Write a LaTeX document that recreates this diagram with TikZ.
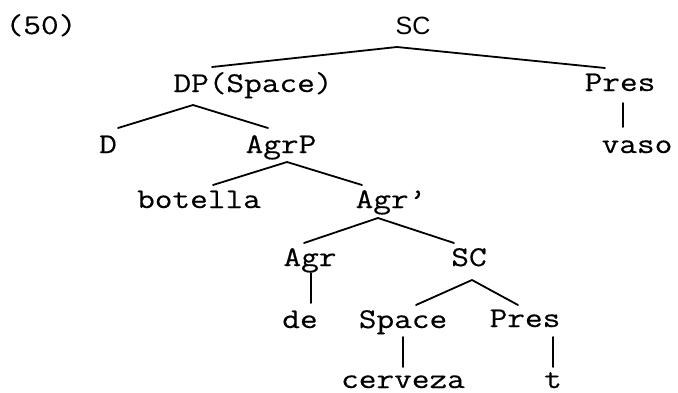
\documentclass[tikz,border=0pt]{standalone}
\usepackage{fontspec}
\newfontfamily\monofam{Latin Modern Mono}[FakeStretch=1.2,FakeBold=0.4]
\newfontfamily\sansfam{Liberation Sans}
\begin{document}
\begin{tikzpicture}[x=0.5pt,y=-0.5pt,
  lab/.style={font=\monofam\fontsize{14.3}{15}\selectfont, inner sep=0pt, anchor=base},
  sanslab/.style={font=\sansfam\fontsize{12.5}{13}\selectfont, inner sep=0pt, anchor=base},
  branch/.style={line width=0.9pt, line cap=round}]
\path[use as bounding box] (0,0) rectangle (678,392);
\node[lab] (ex) at (41,34) {(50)};
\node[sanslab] (sc) at (413,34) {SC};
\node[lab] (dp) at (253,92) {DP(Space)};
\node[lab] (pres) at (620,91) {Pres};
\node[lab] (vaso) at (637,153) {vaso};
\node[lab] (d) at (108,153) {D};
\node[lab] (agrp) at (281,153) {AgrP};
\node[lab] (bot) at (199,208) {botella};
\node[lab] (agrbar) at (391,208) {Agr’};
\node[lab] (agr) at (310,266) {Agr};
\node[lab] (sctwo) at (469,266) {SC};
\node[lab] (de) at (300,328) {de};
\node[lab] (space) at (403,328) {Space};
\node[lab] (prestwo) at (525,327) {Pres};
\node[lab] (cer) at (403,388) {cerveza};
\node[lab] (t) at (553,388) {t};
% branches
\draw[branch] ([shift={(-41,-25)}]dp.base) -- ([shift={(-16,13)}]sc.base) -- ([shift={(-15,-23)}]pres.base);
\draw[branch] ([shift={(3,12)}]pres.base) -- ([shift={(-14,-26)}]vaso.base);
\draw[branch] ([shift={(10,-25)}]d.base) -- ([shift={(-60,13)}]dp.base) -- ([shift={(-13,-25)}]agrp.base);
\draw[branch] ([shift={(14,-23)}]bot.base) -- ([shift={(6,9)}]agrp.base) -- ([shift={(-29,-23)}]agrbar.base);
\draw[branch] ([shift={(-6,-23)}]agr.base) -- ([shift={(-13,10)}]agrbar.base) -- ([shift={(-15,-23)}]sctwo.base);
\draw[branch] ([shift={(1,7)}]agr.base) -- ([shift={(11,-25)}]de.base);
\draw[branch] ([shift={(13,-23)}]space.base) -- ([shift={(3,14)}]sctwo.base) -- ([shift={(-7,-22)}]prestwo.base);
\draw[branch] ([shift={(0,9)}]space.base) -- ([shift={(0,-21)}]cer.base);
\draw[branch] ([shift={(28,10)}]prestwo.base) -- ([shift={(0,-21)}]t.base);
\end{tikzpicture}
\end{document}
